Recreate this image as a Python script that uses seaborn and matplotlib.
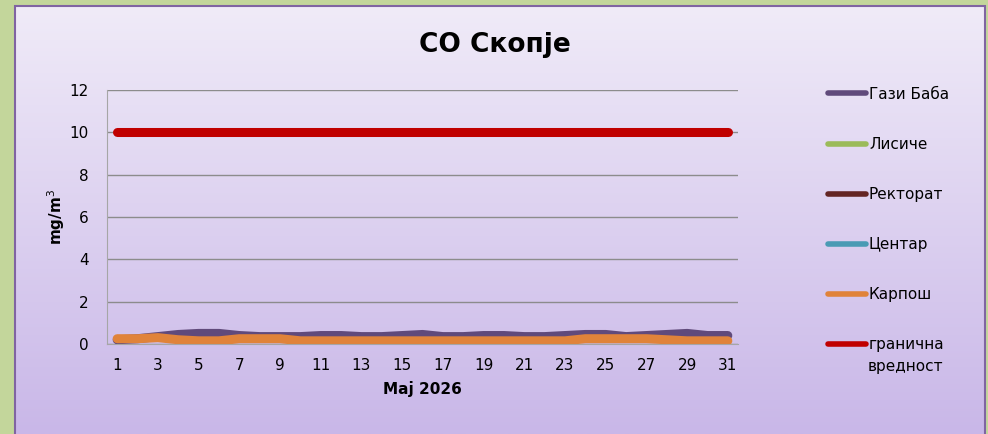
import numpy as np
import pandas as pd
import matplotlib
matplotlib.use("Agg")
import matplotlib.pyplot as plt
import seaborn as sns
from matplotlib.lines import Line2D
from matplotlib.patches import Rectangle

days = list(range(1, 32))
gazi_baba = [0.20, 0.25, 0.35, 0.45, 0.50, 0.50, 0.40, 0.35, 0.35, 0.35, 0.40, 0.40, 0.35, 0.35,
             0.40, 0.45, 0.35, 0.35, 0.40, 0.40, 0.35, 0.35, 0.40, 0.45, 0.45, 0.35, 0.40, 0.45,
             0.50, 0.40, 0.40]
lisiche = [np.nan] * 31
rektorat = [np.nan] * 31
centar = [np.nan] * 31
karposh = [0.25, 0.25, 0.30, 0.20, 0.15, 0.15, 0.25, 0.25, 0.25, 0.15, 0.15, 0.15, 0.15, 0.15,
           0.15, 0.15, 0.15, 0.15, 0.15, 0.15, 0.15, 0.15, 0.15, 0.25, 0.25, 0.25, 0.25, 0.20,
           0.15, 0.15, 0.15]
limit = [10] * 31

names = ["Гази Баба", "Лисиче", "Ректорат", "Центар", "Карпош", "гранична"]
colors = ["#604A7B", "#9BBB59", "#632523", "#4A9BB4", "#E0833A", "#C00000"]
series = [gazi_baba, lisiche, rektorat, centar, karposh, limit]

sns.set_style("white")
plt.rcParams["font.family"] = ["DejaVu Sans"]
plt.rcParams["text.color"] = "black"
plt.rcParams["axes.labelcolor"] = "black"
plt.rcParams["xtick.labelcolor"] = "black"
plt.rcParams["ytick.labelcolor"] = "black"

fig = plt.figure(figsize=(9.88, 4.34), dpi=100)
fig.patch.set_facecolor("#C3D69B")

# gradient panel
bg = fig.add_axes([15 / 988, 0, 970 / 988, 1 - 6 / 434], zorder=0)
grad = np.linspace(0, 1, 256).reshape(-1, 1)
cmap = matplotlib.colors.LinearSegmentedColormap.from_list("p", ["#F0EBF8", "#C9B7E8"])
bg.imshow(grad, aspect="auto", cmap=cmap, extent=[0, 1, 1, 0], origin="upper")
bg.set_xlim(0, 1)
bg.set_ylim(1, 0)
bg.axis("off")
fig.patches.append(Rectangle((15 / 988, -0.05), 970 / 988, 1.05 - 6 / 434, transform=fig.transFigure,
                             fill=False, edgecolor="#8064A2", linewidth=1.5, zorder=1))

ax = fig.add_axes([107 / 988, 1 - 344 / 434, 631 / 988, 254 / 434], zorder=2)
ax.set_facecolor("none")

for name, col, vals in zip(names, colors, series):
    df = pd.DataFrame({"day": days, "value": vals}).dropna()
    if df.empty:
        continue
    sns.lineplot(data=df, x="day", y="value", ax=ax, color=col, linewidth=6.5,
                 solid_capstyle="round", solid_joinstyle="round", legend=False)

ax.set_xlim(0.5, 31.5)
ax.set_ylim(0, 12)
ax.set_yticks(range(0, 13, 2))
ax.set_xticks(range(1, 32, 2))
ax.set_xticks(np.arange(0.5, 32, 1), minor=True)
ax.tick_params(axis="x", which="major", length=0, pad=10, labelsize=11)
ax.tick_params(axis="x", which="minor", length=5, color="#A6A6A6", width=1)
ax.tick_params(axis="y", length=5, color="#A6A6A6", width=1, labelsize=11, pad=8)
ax.grid(axis="y", color="#8C8C8C", linewidth=1)
for side in ["top", "right"]:
    ax.spines[side].set_visible(False)
for side in ["left", "bottom"]:
    ax.spines[side].set_color("#A6A6A6")
ax.set_xlabel("Мај 2026", fontsize=11, fontweight="bold", labelpad=6)
ax.set_ylabel("mg/m$^3$", fontsize=11, fontweight="bold", labelpad=2)
fig.text(495 / 988, 1 - 45 / 434, "СО Скопје", fontsize=19, fontweight="bold", ha="center", va="center")

handles = [Line2D([], [], color=c, linewidth=4, solid_capstyle="round") for c in colors]
fig.legend(handles, names, loc="upper left", bbox_to_anchor=(814 / 988, 1 - 73 / 434),
           frameon=False, fontsize=11, handlelength=2.5, handletextpad=0.2, labelspacing=2.3)
fig.text(868 / 988, 1 - 366 / 434, "вредност", fontsize=11, ha="left", va="center")

fig.savefig("out.png", dpi=100, facecolor=fig.get_facecolor())
